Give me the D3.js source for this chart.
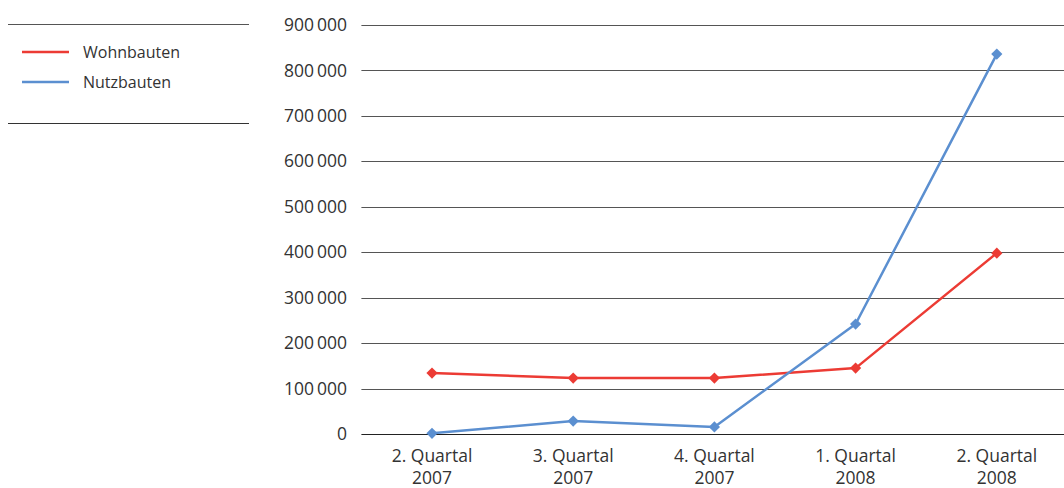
<!DOCTYPE html>
<html>
<head>
<meta charset="utf-8">
<script src="https://cdn.jsdelivr.net/npm/d3@7"></script>
<style>
  html, body { margin: 0; padding: 0; background: #fff; }
  svg { display: block; font-family: "Open Sans", "Noto Sans", sans-serif; }
</style>
</head>
<body>
<svg id="chart" width="1064" height="488"></svg>
<script>
// Quarterly values
const categories = [["2. Quartal", "2007"], ["3. Quartal", "2007"], ["4. Quartal", "2007"], ["1. Quartal", "2008"], ["2. Quartal", "2008"]];
const wohnbauten = [134000, 123000, 123000, 145000, 398000];
const nutzbauten = [1500, 28500, 15500, 242000, 836000];
const yTicks = [0, 100000, 200000, 300000, 400000, 500000, 600000, 700000, 800000, 900000];
const seriesNames = ["Wohnbauten", "Nutzbauten"];
const seriesColors = ["#ec3b34", "#5b8fd0"];

const svg = d3.select("#chart");
const plotLeft = 361.4, plotRight = 1067.4, plotTop = 25, plotBottom = 434;

const x = d3.scaleBand().domain(d3.range(categories.length)).range([plotLeft, plotRight]);
const y = d3.scaleLinear().domain([0, 900000]).range([plotBottom, plotTop]);

const fmt = v => d3.format(",")(v).replace(/,/g, "\u2009");

// gridlines
svg.append("g").selectAll("line").data(yTicks).join("line")
  .attr("x1", plotLeft).attr("x2", plotRight)
  .attr("y1", d => Math.round(y(d)) + 0.5).attr("y2", d => Math.round(y(d)) + 0.5)
  .attr("stroke", d => d === 0 ? "#222" : "#555").attr("stroke-width", 1);

// y tick labels
svg.append("g").selectAll("text").data(yTicks).join("text")
  .attr("x", 347).attr("y", d => y(d)).attr("dy", "0.35em")
  .attr("text-anchor", "end").attr("font-size", 17.5).attr("fill", "#333")
  .text(fmt);

// x category labels
const xl = svg.append("g").selectAll("text").data(categories).join("text")
  .attr("text-anchor", "middle").attr("font-size", 17.5).attr("fill", "#333")
  .attr("transform", (d, i) => `translate(${x(i) + x.bandwidth() / 2},0)`);
xl.append("tspan").attr("x", 0).attr("y", 462).text(d => d[0]);
xl.append("tspan").attr("x", 0).attr("y", 484).text(d => d[1]);

// series lines with diamond markers
const series = [wohnbauten, nutzbauten];
const line = d3.line().x((d, i) => x(i) + x.bandwidth() / 2).y(d => y(d));
const diamond = d3.symbol().type(d3.symbolDiamond2).size(80);

series.forEach((vals, s) => {
  const g = svg.append("g");
  g.append("path").datum(vals).attr("d", line)
    .attr("fill", "none").attr("stroke", seriesColors[s]).attr("stroke-width", 2.5)
    .attr("stroke-linejoin", "round");
  g.selectAll("path.m").data(vals).join("path").attr("class", "m")
    .attr("d", diamond)
    .attr("transform", (d, i) => `translate(${x(i) + x.bandwidth() / 2},${y(d)})`)
    .attr("fill", seriesColors[s]);
});

// legend
const lg = svg.append("g");
lg.append("line").attr("x1", 8).attr("x2", 249).attr("y1", 24.5).attr("y2", 24.5).attr("stroke", "#555");
lg.append("line").attr("x1", 8).attr("x2", 249).attr("y1", 123.5).attr("y2", 123.5).attr("stroke", "#333");
seriesNames.forEach((n, i) => {
  const yy = 52 + i * 30;
  lg.append("line").attr("x1", 22).attr("x2", 69).attr("y1", yy).attr("y2", yy)
    .attr("stroke", seriesColors[i]).attr("stroke-width", 2.5);
  lg.append("text").attr("x", 83).attr("y", yy).attr("dy", "0.35em")
    .attr("font-size", 16).attr("fill", "#333").text(n);
});
</script>
</body>
</html>
